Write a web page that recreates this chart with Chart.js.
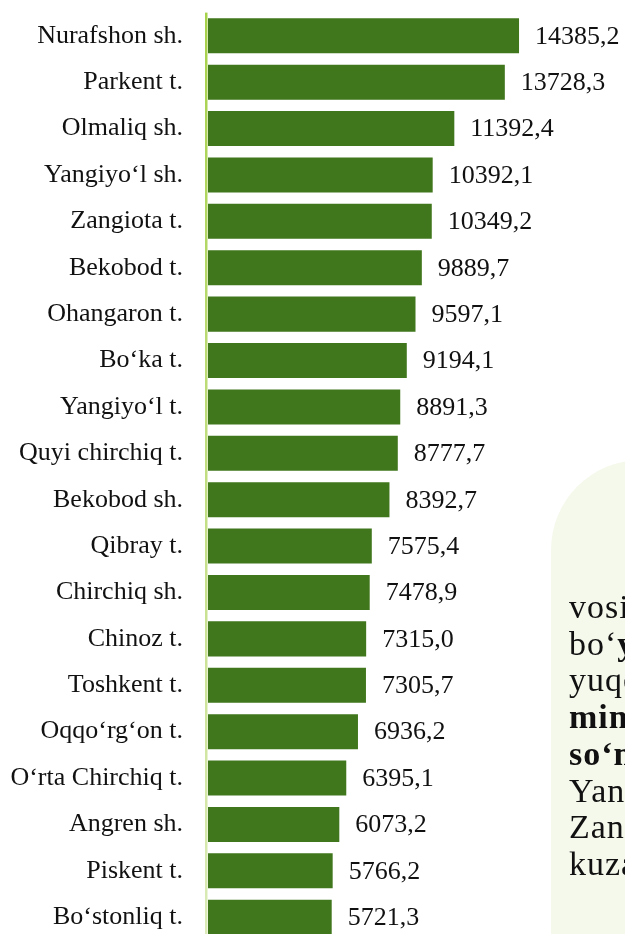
<!DOCTYPE html>
<html>
<head>
<meta charset="utf-8">
<script src="https://cdn.jsdelivr.net/npm/chart.js@4/dist/chart.umd.min.js"></script>
<style>
    html, body { margin: 0; padding: 0; background: #fff; overflow: hidden; }
    #wrap { position: absolute; left: 0; top: -28px; width: 625px; height: 1009px; }
    #panel {
        position: absolute; left: 551px; top: 460px; width: 140px; height: 520px;
        background: #f5f9ec; border-top-left-radius: 90px;
        font-family: 'Liberation Serif', 'Times New Roman', serif;
        font-size: 34px; line-height: 36.7px; letter-spacing: 1px; color: #111;
        overflow: hidden; white-space: nowrap;
    }
    #panel .txt { position: absolute; left: 18px; top: 129px; }
</style>
</head>
<body>
<div id="wrap"><canvas id="chart" width="625" height="1009"></canvas></div>
<div id="panel">
    <div class="txt">
        vositasida<br>
        bo‘<b>yicha</b><br>
        yuqori<br>
        <b>ming</b><br>
        <b>so‘m</b><br>
        Yangiyo‘l<br>
        Zangiota<br>
        kuzatilgan
    </div>
</div>
<script>
const hududlar = [
    'Nurafshon sh.', 'Parkent t.', 'Olmaliq sh.', 'Yangiyo‘l sh.', 'Zangiota t.',
    'Bekobod t.', 'Ohangaron t.', 'Bo‘ka t.', 'Yangiyo‘l t.', 'Quyi chirchiq t.',
    'Bekobod sh.', 'Qibray t.', 'Chirchiq sh.', 'Chinoz t.', 'Toshkent t.',
    'Oqqo‘rg‘on t.', 'O‘rta Chirchiq t.', 'Angren sh.', 'Piskent t.', 'Bo‘stonliq t.'
];
const qiymatlar = [
    14385.2, 13728.3, 11392.4, 10392.1, 10349.2,
    9889.7, 9597.1, 9194.1, 8891.3, 8777.7,
    8392.7, 7575.4, 7478.9, 7315.0, 7305.7,
    6936.2, 6395.1, 6073.2, 5766.2, 5721.3
];

const shrift = "'Liberation Serif', 'Times New Roman', serif";

// chap o'qdagi yashil chiziq
const oqChiziq = {
    id: 'oqChiziq',
    afterDatasetsDraw(chart) {
        const { ctx, chartArea } = chart;
        const g = ctx.createLinearGradient(0, chartArea.top, 0, chartArea.bottom);
        g.addColorStop(0, '#a6d14a');
        g.addColorStop(1, '#dcebb8');
        ctx.save();
        ctx.fillStyle = g;
        ctx.fillRect(205, chartArea.top, 2.5, chartArea.bottom - chartArea.top);
        ctx.restore();
    }
};

// ustun yonidagi qiymatlar
const qiymatYozuv = {
    id: 'qiymatYozuv',
    afterDatasetsDraw(chart) {
        const { ctx } = chart;
        const meta = chart.getDatasetMeta(0);
        ctx.save();
        ctx.font = '26px ' + shrift;
        ctx.fillStyle = '#111';
        ctx.textAlign = 'left';
        ctx.textBaseline = 'middle';
        meta.data.forEach((bar, i) => {
            const matn = qiymatlar[i].toFixed(1).replace('.', ',');
            ctx.fillText(matn, bar.x + 16, bar.y + 1);
        });
        ctx.restore();
    }
};

const ctx = document.getElementById('chart').getContext('2d');
new Chart(ctx, {
    type: 'bar',
    data: {
        labels: hududlar,
        datasets: [{
            data: qiymatlar,
            backgroundColor: '#40761c',
            borderWidth: 0,
            barPercentage: 0.755,
            categoryPercentage: 1
        }]
    },
    options: {
        indexAxis: 'y',
        responsive: false,
        animation: false,
        devicePixelRatio: 1,
        layout: { padding: { left: 0, right: 17, top: 12, bottom: 4 } },
        plugins: {
            legend: { display: false },
            tooltip: { enabled: false }
        },
        scales: {
            x: {
                display: false,
                min: 0,
                max: 18500
            },
            y: {
                afterFit(scale) { scale.width = 208; },
                grid: { display: false, drawTicks: false },
                border: { display: false },
                ticks: {
                    padding: 25,
                    color: '#111',
                    font: { family: shrift, size: 26 }
                }
            }
        }
    },
    plugins: [oqChiziq, qiymatYozuv]
});
</script>
</body>
</html>
